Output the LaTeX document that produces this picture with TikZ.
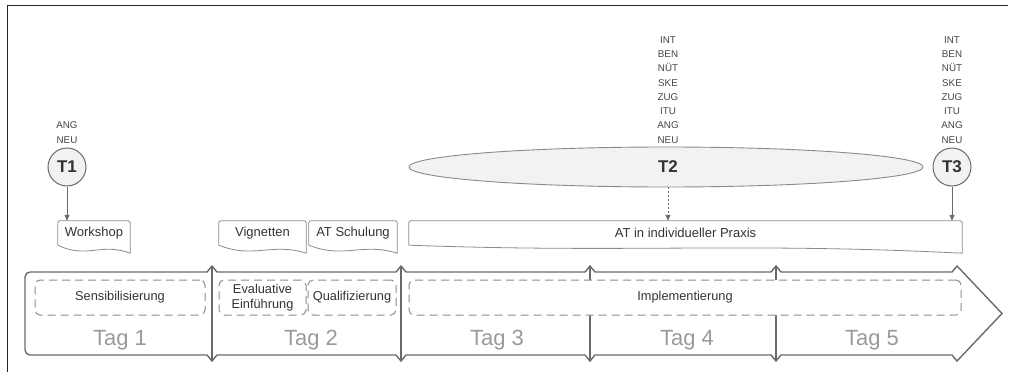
\documentclass[tikz,border=0pt]{standalone}
\usepackage{fontspec}
\setmainfont{Liberation Sans}
\usetikzlibrary{shapes.geometric,arrows.meta,calc}
\definecolor{tlline}{HTML}{6A6A6A}
\definecolor{docline}{HTML}{8A8A8A}
\definecolor{dashline}{HTML}{8C8C8C}
\definecolor{txt}{HTML}{333333}
\definecolor{lbl}{HTML}{444444}
\definecolor{taggray}{HTML}{9A9A9A}
\definecolor{tfill}{HTML}{F2F2F2}
\begin{document}
\begin{tikzpicture}[x=1pt,y=-1pt,
  tl/.style={draw=tlline,line width=1.4pt,line join=miter},
  docbox/.style={inner sep=0pt,minimum height=24pt,text=txt,font=\fontsize{13}{15}\selectfont},
  dashbox/.style={draw=dashline,line width=1pt,dash pattern=on 8pt off 5pt,rounded corners=5pt,fill=white,inner sep=0pt,minimum height=35pt,text=txt,font=\fontsize{12.8}{15.5}\selectfont,align=center},
  tagtxt/.style={anchor=base,text=taggray,font=\fontsize{22}{25}\selectfont},
  tcirc/.style={circle,draw=tlline,line width=1pt,fill=tfill,minimum size=38pt,inner sep=0pt,font=\fontsize{17}{20}\selectfont\bfseries,text=txt},
  smalllbl/.style={anchor=south,inner sep=0pt,align=center,text=lbl,font=\fontsize{9.8}{14.3}\selectfont},
  conn/.style={draw=tlline,line width=1pt,-{Triangle[length=6pt,width=5pt]}},
  dconn/.style={draw=tlline,line width=1pt,dash pattern=on 2pt off 2pt,-{Triangle[length=6pt,width=5pt]}}
]
\useasboundingbox (0,0) rectangle (1011,372);
% frame
\draw[draw=black!85,line width=0.8pt] (7,372) -- (7,5) -- (1008,5);

% timeline body
\draw[tl] (120,355) [rounded corners=5pt] -- (25,355) -- (25,272) -- (120,272) [sharp corners]
  -- (207,272) -- (212,266) -- (217,272)
  -- (396,272) -- (401,266) -- (406,272)
  -- (585,272) -- (590,266) -- (595,272)
  -- (771,272) -- (776,266) -- (781,272)
  -- (952,272) -- (957,266) -- (1002,313.5) -- (957,361) -- (952,355)
  -- (781,355) -- (776,361) -- (771,355)
  -- (595,355) -- (590,361) -- (585,355)
  -- (406,355) -- (401,361) -- (396,355)
  -- (217,355) -- (212,361) -- (207,355) -- cycle;
\foreach \bx in {212,401,590,776} \draw[tl] (\bx,266) -- (\bx,361);

% dashed phase boxes
\node[dashbox,minimum width=170pt] (sens) at (120,297.5) {Sensibilisierung};
\node[dashbox,minimum width=87pt] (eval) at (262.5,297.5) {Evaluative\\Einführung};
\node[dashbox,minimum width=88pt] (qual) at (352,297.5) {Qualifizierung};
\node[dashbox,minimum width=552pt] (impl) at (685,297.5) {Implementierung};

% day labels
\node[tagtxt] (tag1) at (120,345) {Tag 1};
\node[tagtxt] (tag2) at (311,345) {Tag 2};
\node[tagtxt] (tag3) at (497,345) {Tag 3};
\node[tagtxt] (tag4) at (687,345) {Tag 4};
\node[tagtxt] (tag5) at (872,345) {Tag 5};

% document boxes
\node[docbox,minimum width=72pt] (ws) at (94,233) {Workshop};
\node[docbox,minimum width=87pt] (vig) at (262.5,233) {Vignetten};
\node[docbox,minimum width=88pt] (ats) at (353,233) {AT Schulung};
\node[docbox,minimum width=553pt] (atp) at (685.5,233) {AT in individueller Praxis};
\foreach \n/\d in {ws/12,vig/12,ats/12,atp/6}{
  \draw[draw=docline,line width=0.8pt] (\n.south west) [rounded corners=2pt] -- (\n.north west) -- (\n.north east) [sharp corners] -- ($(\n.south east)+(0,8)$)
    .. controls ($(\n.south west)!0.6!(\n.south east)+(0,-3)$) and ($(\n.south west)!0.4!(\n.south east)+(0,\d+2)$) .. (\n.south west);
}

% measurement points
\node[tcirc] (T1) at (67,167) {T1};
\node[ellipse,draw=docline,line width=0.9pt,fill=tfill,minimum width=514pt,minimum height=40pt,inner sep=0pt] (T2) at (666,167) {};
\node[font=\fontsize{17}{20}\selectfont\bfseries,text=txt,inner sep=0pt] (T2t) at (668,167) {T2};
\node[tcirc] (T3) at (952,167) {T3};

\node[smalllbl] (l1) at (67,143.5) {ANG\\NEU};
\node[smalllbl] (l2) at (668,143.5) {INT\\BEN\\NÜT\\SKE\\ZUG\\ITU\\ANG\\NEU};
\node[smalllbl] (l3) at (952,143.5) {INT\\BEN\\NÜT\\SKE\\ZUG\\ITU\\ANG\\NEU};

% connectors
\draw[conn] (T1.south) -- (T1.south |- ws.north);
\draw[dconn] (T2t |- T2.south) -- (T2t |- atp.north);
\draw[conn] (T3.south) -- (T3.south |- atp.north);
\end{tikzpicture}
\end{document}
